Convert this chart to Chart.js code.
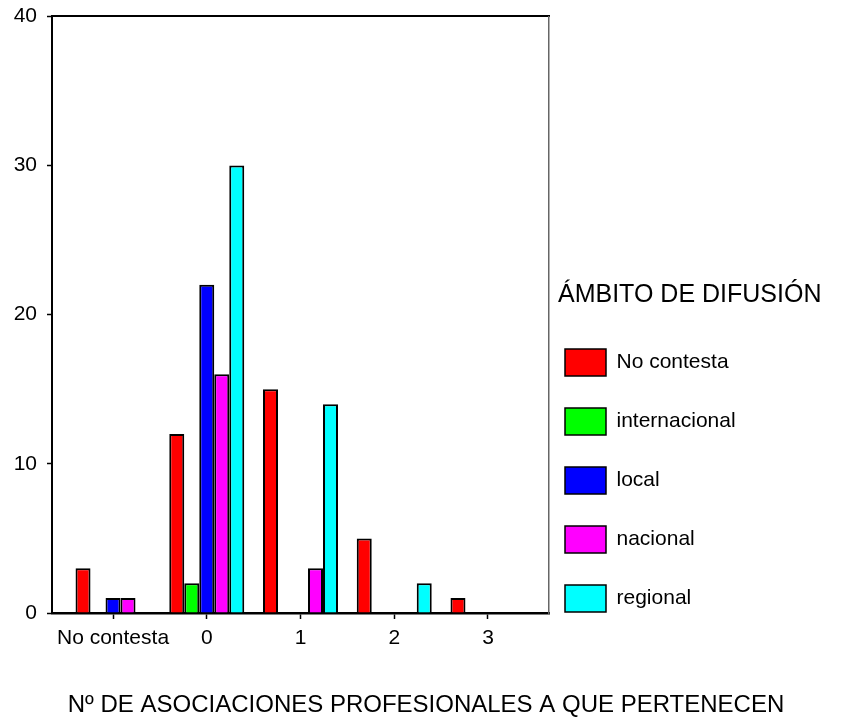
<!DOCTYPE html>
<html>
<head>
<meta charset="utf-8">
<script src="https://cdn.jsdelivr.net/npm/chart.js@4.4.1/dist/chart.umd.min.js"></script>
<style>
html, body { margin: 0; padding: 0; background: #fff; }
#wrap { width: 860px; height: 719px; }
</style>
</head>
<body>
<div id="wrap"><canvas id="chart"></canvas></div>
<script>
const xLabels = ["No contesta", "0", "1", "2", "3"];
const seriesNames = ["No contesta", "internacional", "local", "nacional", "regional"];
const seriesColors = ["#ff0000", "#00ff00", "#0000ff", "#ff00ff", "#00ffff"];
const noContesta = [3, 12, 15, 5, 1];
const internacional = [0, 2, 0, 0, 0];
const local = [1, 22, 0, 0, 0];
const nacional = [1, 16, 3, 0, 0];
const regional = [0, 30, 14, 2, 0];
const yMax = 40;
const yStep = 10;
const xTitle = "Nº DE ASOCIACIONES PROFESIONALES A QUE PERTENECEN";
const legendTitle = "ÁMBITO DE DIFUSIÓN";

Chart.defaults.font.family = "'Liberation Sans', Arial, sans-serif";
Chart.defaults.color = "#000";

const seriesValues = [noContesta, internacional, local, nacional, regional];
const datasets = seriesNames.map(function(name, k) {
	return {
		label: name,
		data: seriesValues[k].map(function(v, i) { return {x: i, y: v}; }),
		backgroundColor: seriesColors[k],
		borderColor: "#000",
		borderWidth: 2,
		xAxisID: "x",
		yAxisID: "y"
	};
});

// axis title under the chart, drawn by hand
const xTitlePlugin = {
	id: "xTitle",
	afterDraw(chart) {
		const ctx = chart.ctx;
		ctx.save();
		ctx.font = "24px 'Liberation Sans', Arial, sans-serif";
		ctx.fillStyle = "#000";
		ctx.textAlign = "center";
		ctx.textBaseline = "alphabetic";
		ctx.fillText(xTitle, 426, 712);
		ctx.restore();
	}
};

// the legend is capped at a quarter of the width, give it the whole right side
const legendWidthPlugin = {
	id: "legendWidth",
	beforeLayout(chart) {
		const lg = chart.legend;
		if (!lg || lg.fitPatched)
			return;
		const fit = lg.fit;
		lg.fit = function() {
			fit.call(this);
			this.width = 302;
		};
		lg.fitPatched = true;
	}
};

new Chart(document.getElementById("chart"), {
	type: "bar",
	data: {datasets: datasets},
	options: {
		responsive: true,
		maintainAspectRatio: false,
		animation: false,
		categoryPercentage: 0.8,
		barPercentage: 1.0,
		layout: {padding: 0},
		plugins: {
			tooltip: {enabled: false},
			legend: {
				position: "right",
				align: "start",
				fullSize: true,
				title: {
					display: true,
					text: legendTitle,
					position: "start",
					font: {size: 25, lineHeight: 1},
					padding: {top: 283, bottom: 34}
				},
				labels: {
					boxWidth: 41,
					boxHeight: 27,
					padding: 7,
					font: {size: 21, lineHeight: 52 / 21},
					generateLabels(chart) {
						const items = Chart.defaults.plugins.legend.labels.generateLabels(chart);
						items.forEach(function(it) { it.text = [it.text]; it.lineWidth = 1.5; });
						return items;
					}
				}
			}
		},
		scales: {
			x: {
				type: "linear",
				position: "bottom",
				offset: false,
				min: -0.651,
				max: xLabels.length - 1 + 0.651,
				afterBuildTicks(s) { s.ticks = xLabels.map(function(_, i) { return {value: i}; }); },
				afterFit(s) { s.height = 106; },
				grid: {offset: false, drawOnChartArea: false, drawTicks: true, tickLength: 6, tickColor: "#000", tickWidth: 1.5},
				border: {color: "#000", width: 2.5},
				ticks: {
					autoSkip: false,
					maxRotation: 0,
					padding: 7,
					font: {size: 21},
					callback(v) { return xLabels[v]; }
				}
			},
			x2: {
				type: "linear",
				position: "top",
				afterFit(s) { s.height = 14; },
				grid: {drawOnChartArea: false, drawTicks: false},
				border: {color: "#000", width: 2},
				ticks: {display: false}
			},
			y: {
				min: 0,
				max: yMax,
				position: "left",
				afterFit(s) { s.width = 52; },
				grid: {drawOnChartArea: false, drawTicks: true, tickLength: 5, tickColor: "#000", tickWidth: 1.5},
				border: {color: "#000", width: 2},
				ticks: {stepSize: yStep, padding: 10, font: {size: 21, lineHeight: 0.6}}
			},
			y2: {
				type: "linear",
				position: "right",
				afterFit(s) { s.width = 9; },
				grid: {drawOnChartArea: false, drawTicks: false},
				border: {color: "#666", width: 1.5},
				ticks: {display: false}
			}
		}
	},
	plugins: [xTitlePlugin, legendWidthPlugin]
});
</script>
</body>
</html>
